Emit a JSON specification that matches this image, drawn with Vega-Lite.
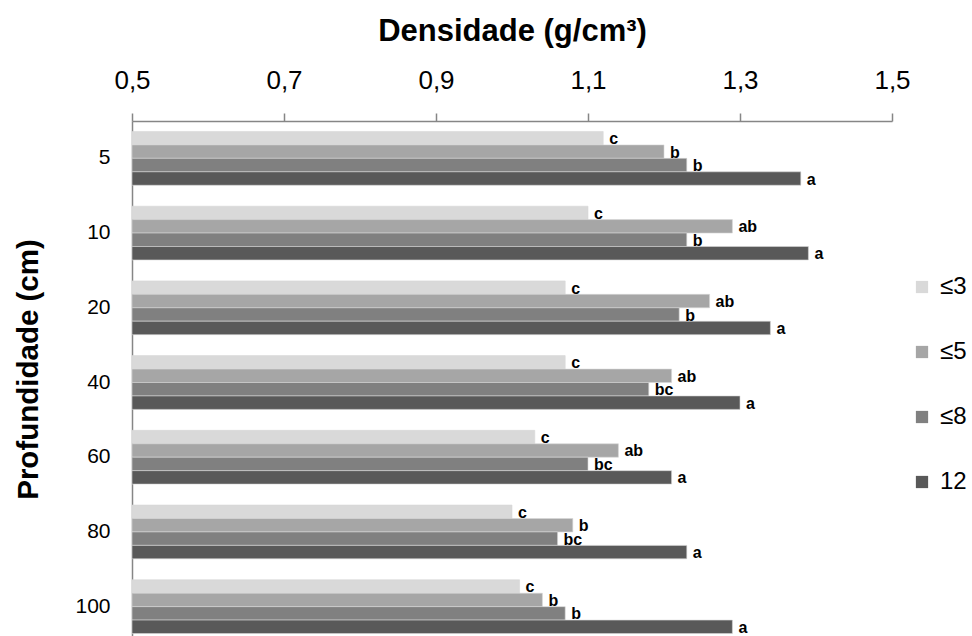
{
  "$schema": "https://vega.github.io/schema/vega-lite/v6.json",
  "autosize": {"type": "none"},
  "width": 760,
  "height": 523,
  "padding": {"left": 132, "top": 121, "right": 80, "bottom": 0},
  "background": "white",
  "config": {
    "view": {"stroke": null},
    "font": "Liberation Sans"
  },
  "data": {
    "values": [
      {"depth": "5", "class": "≤3", "value": 1.12, "letter": "c"},
      {"depth": "5", "class": "≤5", "value": 1.20, "letter": "b"},
      {"depth": "5", "class": "≤8", "value": 1.23, "letter": "b"},
      {"depth": "5", "class": "12", "value": 1.38, "letter": "a"},
      {"depth": "10", "class": "≤3", "value": 1.10, "letter": "c"},
      {"depth": "10", "class": "≤5", "value": 1.29, "letter": "ab"},
      {"depth": "10", "class": "≤8", "value": 1.23, "letter": "b"},
      {"depth": "10", "class": "12", "value": 1.39, "letter": "a"},
      {"depth": "20", "class": "≤3", "value": 1.07, "letter": "c"},
      {"depth": "20", "class": "≤5", "value": 1.26, "letter": "ab"},
      {"depth": "20", "class": "≤8", "value": 1.22, "letter": "b"},
      {"depth": "20", "class": "12", "value": 1.34, "letter": "a"},
      {"depth": "40", "class": "≤3", "value": 1.07, "letter": "c"},
      {"depth": "40", "class": "≤5", "value": 1.21, "letter": "ab"},
      {"depth": "40", "class": "≤8", "value": 1.18, "letter": "bc"},
      {"depth": "40", "class": "12", "value": 1.30, "letter": "a"},
      {"depth": "60", "class": "≤3", "value": 1.03, "letter": "c"},
      {"depth": "60", "class": "≤5", "value": 1.14, "letter": "ab"},
      {"depth": "60", "class": "≤8", "value": 1.10, "letter": "bc"},
      {"depth": "60", "class": "12", "value": 1.21, "letter": "a"},
      {"depth": "80", "class": "≤3", "value": 1.00, "letter": "c"},
      {"depth": "80", "class": "≤5", "value": 1.08, "letter": "b"},
      {"depth": "80", "class": "≤8", "value": 1.06, "letter": "bc"},
      {"depth": "80", "class": "12", "value": 1.23, "letter": "a"},
      {"depth": "100", "class": "≤3", "value": 1.01, "letter": "c"},
      {"depth": "100", "class": "≤5", "value": 1.04, "letter": "b"},
      {"depth": "100", "class": "≤8", "value": 1.07, "letter": "b"},
      {"depth": "100", "class": "12", "value": 1.29, "letter": "a"}
    ]
  },
  "encoding": {
    "y": {
      "field": "depth",
      "type": "nominal",
      "sort": ["5", "10", "20", "40", "60", "80", "100"],
      "scale": {"paddingInner": 0.28, "paddingOuter": 0.14},
      "axis": {
        "title": "Profundidade (cm)",
        "titleFontSize": 29.5,
        "titleFontWeight": "bold",
        "titleColor": "#000000",
        "titlePadding": 31,
        "titleY": 248,
        "labelFontSize": 21,
        "labelColor": "#000000",
        "labelPadding": 22,
        "ticks": false,
        "domainColor": "#868686",
        "domainWidth": 1.5
      }
    },
    "yOffset": {
      "field": "class",
      "type": "nominal",
      "sort": ["≤3", "≤5", "≤8", "12"],
      "scale": {"paddingInner": 0, "paddingOuter": 0}
    }
  },
  "layer": [
    {
      "mark": {"type": "bar", "stroke": "#d6d6d6", "strokeWidth": 0.6},
      "encoding": {
        "x": {
          "field": "value",
          "type": "quantitative",
          "scale": {"domain": [0.5, 1.5], "zero": false, "nice": false},
          "axis": {
            "orient": "top",
            "values": [0.5, 0.7, 0.9, 1.1, 1.3, 1.5],
            "labelExpr": "replace(format(datum.value, '.1f'), '.', ',')",
            "labelFlush": false,
            "grid": false,
            "tickSize": 8,
            "tickColor": "#868686",
            "tickWidth": 1.5,
            "domainColor": "#868686",
            "domainWidth": 1.5,
            "labelFontSize": 26,
            "labelColor": "#000000",
            "labelPadding": 20,
            "title": "Densidade (g/cm³)",
            "titleFontSize": 31,
            "titleFontWeight": "bold",
            "titleColor": "#000000",
            "titlePadding": 20
          }
        },
        "x2": {"datum": 0.5},
        "color": {
          "field": "class",
          "type": "nominal",
          "sort": ["≤3", "≤5", "≤8", "12"],
          "scale": {
            "domain": ["≤3", "≤5", "≤8", "12"],
            "range": ["#d9d9d9", "#a6a6a6", "#808080", "#595959"]
          },
          "legend": {
            "title": null,
            "orient": "none",
            "legendX": 778,
            "legendY": 154,
            "symbolType": "square",
            "symbolSize": 150,
            "symbolStrokeWidth": 0,
            "labelFontSize": 24,
            "labelColor": "#000000",
            "labelOffset": 6,
            "rowPadding": 41
          }
        }
      }
    },
    {
      "mark": {
        "type": "text",
        "align": "left",
        "baseline": "middle",
        "dx": 6,
        "dy": 1,
        "fontSize": 16,
        "fontWeight": "bold",
        "color": "#000000"
      },
      "encoding": {
        "x": {"field": "value", "type": "quantitative"},
        "text": {"field": "letter", "type": "nominal"}
      }
    }
  ]
}
